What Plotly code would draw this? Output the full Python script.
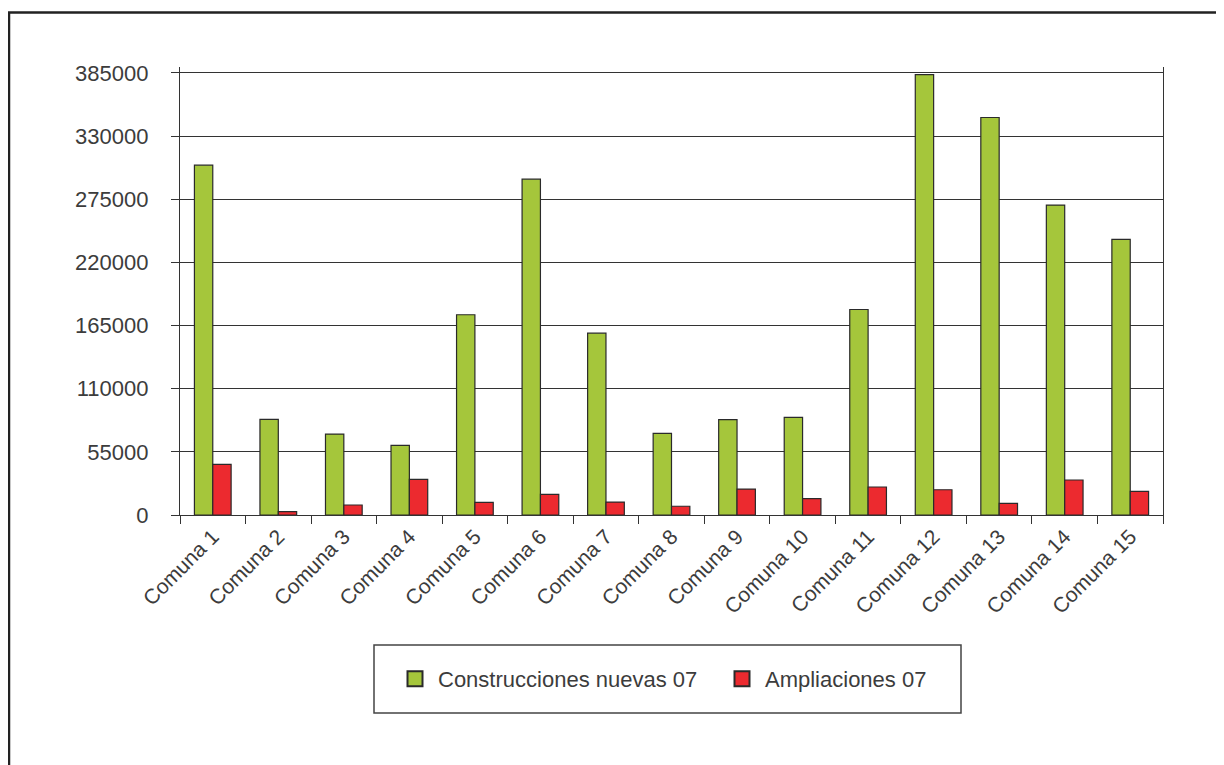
import plotly.graph_objects as go

categories = ["Comuna 1", "Comuna 2", "Comuna 3", "Comuna 4", "Comuna 5", "Comuna 6",
              "Comuna 7", "Comuna 8", "Comuna 9", "Comuna 10", "Comuna 11", "Comuna 12",
              "Comuna 13", "Comuna 14", "Comuna 15"]
nuevas = [304700, 83300, 70500, 60700, 174400, 292500, 158400, 71100, 83000, 85000,
          179000, 383600, 346200, 269900, 240000]
ampliaciones = [44100, 2900, 8700, 31000, 11000, 18000, 11300, 7600, 22600, 14200,
                24400, 22000, 10200, 30500, 20600]
series_names = ["Construcciones nuevas 07", "Ampliaciones 07"]
y_ticks = [0, 55000, 110000, 165000, 220000, 275000, 330000, 385000]

GREEN = "#a5c63b"
RED = "#ec2a2f"
EDGE = "#2a2a2a"
TXT = "#3c3c3c"
FONT = "Liberation Sans, Arial, sans-serif"

fig = go.Figure()
fig.add_trace(go.Bar(x=categories, y=nuevas, name=series_names[0],
                     marker=dict(color=GREEN, line=dict(color=EDGE, width=1.2)), showlegend=False))
fig.add_trace(go.Bar(x=categories, y=ampliaciones, name=series_names[1],
                     marker=dict(color=RED, line=dict(color=EDGE, width=1.2)), showlegend=False))
# legend proxies
fig.add_trace(go.Scatter(x=[None], y=[None], mode="markers", name=series_names[0],
                         marker=dict(symbol="square", size=15, color=GREEN, line=dict(color=EDGE, width=2))))
fig.add_trace(go.Scatter(x=[None], y=[None], mode="markers", name=series_names[1],
                         marker=dict(symbol="square", size=15, color=RED, line=dict(color=EDGE, width=2))))

OFF = 8  # page body margin
W, H = 1216, 757
# plot area in screen coords: x 180..1163, y 67..515
L = 180 - OFF
T = 67 - OFF
R = W - (1163 - OFF)
B = H - (515 - OFF)
pw, ph = W - L - R, H - T - B

def px(sx):
    return (sx - OFF - L) / pw

def py(sy):
    return (H - B - (sy - OFF)) / ph

fig.update_layout(
    width=W, height=H,
    margin=dict(l=L, r=R, t=T, b=B),
    paper_bgcolor="white", plot_bgcolor="white",
    barmode="group", bargap=0.44, bargroupgap=0,
    font=dict(family=FONT, size=22, color=TXT),
    legend=dict(orientation="h", xanchor="left", yanchor="middle",
                x=px(392), y=py(679), font=dict(size=22, color=TXT),
                bgcolor="rgba(0,0,0,0)", borderwidth=0, itemwidth=36,
                entrywidth=276, entrywidthmode="pixels"),
    shapes=[
        dict(type="rect", xref="paper", yref="paper", x0=px(374), x1=px(961), y0=py(713), y1=py(645),
             line=dict(color="#444", width=1.5), fillcolor="rgba(0,0,0,0)", layer="above"),
        dict(type="rect", xref="paper", yref="paper", x0=px(9), x1=px(1300), y0=py(850), y1=py(12.5),
             line=dict(color="#222", width=2.5), fillcolor="rgba(0,0,0,0)"),
    ],
)
fig.update_xaxes(type="category", showline=True, linecolor="#333", linewidth=1.2, mirror=False,
                 ticks="outside", tickson="boundaries", ticklen=8, tickcolor="#333", tickwidth=1.2,
                 tickangle=-45, showgrid=False, tickfont=dict(size=21, color=TXT))
fig.update_yaxes(range=[0, 390200], tickvals=y_ticks, showline=True, linecolor="#333", linewidth=1.2,
                 mirror=True, ticks="outside", ticklen=8, tickcolor="#333", tickwidth=1.2,
                 showgrid=True, gridcolor="#333", gridwidth=1.2, zeroline=False,
                 ticklabelstandoff=18, tickfont=dict(size=22, color=TXT), tickformat="d")

fig.write_html("out.html")
